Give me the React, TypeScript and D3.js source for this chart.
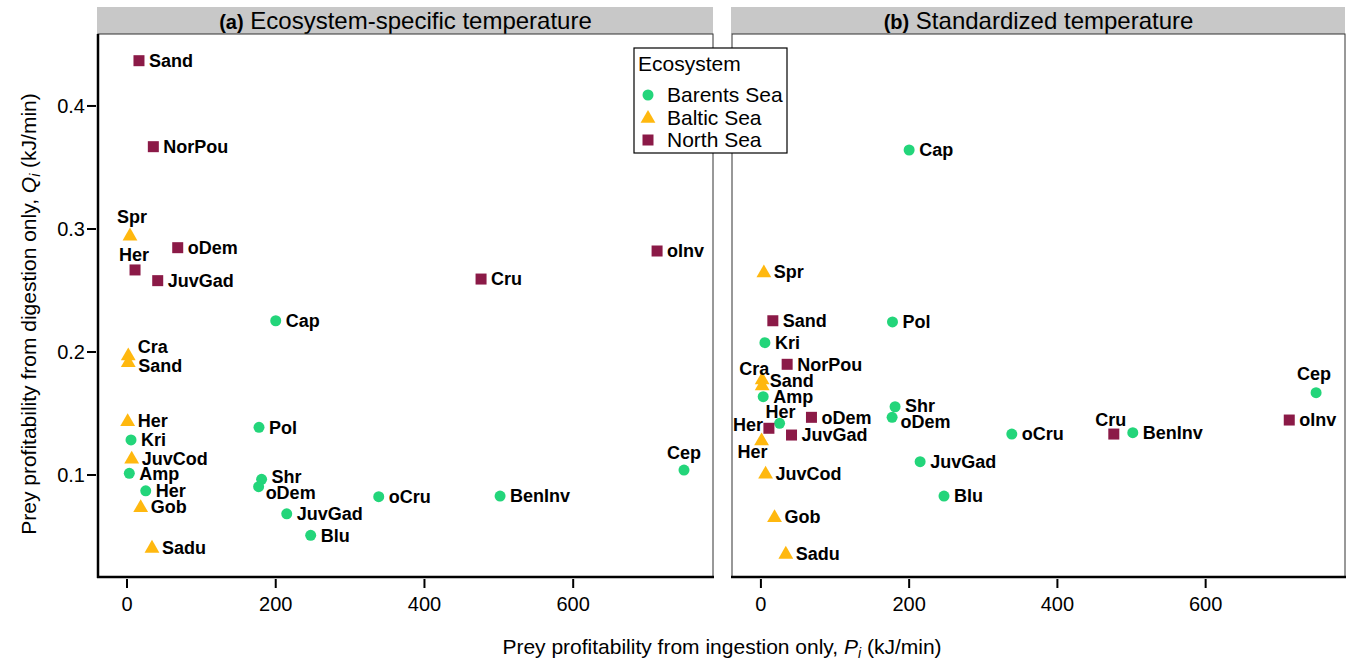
import React from 'react';
import * as d3 from 'd3';

// ---- data ----
const ecosystems = ['Barents Sea', 'Baltic Sea', 'North Sea'];

// prey per ecosystem, P_i (ingestion) is shared between panels
const barentsPrey = ['Cap', 'Pol', 'Kri', 'Amp', 'Her', 'Shr', 'oDem', 'oCru', 'BenInv', 'JuvGad', 'Blu', 'Cep'];
const barentsP = [200, 177.5, 5.4, 3.1, 25.2, 181, 177, 338.5, 501.7, 214.8, 247, 749];
const barentsQa = [0.2254, 0.1388, 0.1285, 0.1014, 0.0872, 0.0965, 0.0905, 0.0824, 0.0829, 0.0685, 0.051, 0.104];
const barentsQb = [0.3642, 0.2244, 0.2076, 0.1637, 0.142, 0.1555, 0.1469, 0.1333, 0.1344, 0.1108, 0.0829, 0.1669];

const balticPrey = ['Spr', 'Cra', 'Sand', 'Her', 'JuvCod', 'Gob', 'Sadu'];
const balticP = [4.0, 1.7, 1.7, 0.9, 6.3, 18.4, 33.6];
const balticQa = [0.295, 0.1976, 0.1921, 0.1441, 0.1136, 0.0742, 0.0412];
const balticQb = [0.265, 0.178, 0.1732, 0.1285, 0.1014, 0.0661, 0.0363];

const northPrey = ['Sand', 'NorPou', 'oDem', 'Her', 'JuvGad', 'Cru', 'oInv'];
const northP = [16.1, 35.4, 68.2, 10.8, 41.3, 476.1, 712.8];
const northQa = [0.4368, 0.3669, 0.2848, 0.2667, 0.258, 0.2593, 0.2821];
const northQb = [0.2254, 0.19, 0.1469, 0.138, 0.1325, 0.1333, 0.1447];

const xTicks = [0, 200, 400, 600];
const yTicks = [0.1, 0.2, 0.3, 0.4];
const panelTitles = [['(a)', 'Ecosystem-specific temperature'], ['(b)', 'Standardized temperature']];

// label placement tweaks: [dx, dy, anchor]
const labelNudge: Record<string, [number, number, string]> = {
  'a|Baltic Sea|Spr': [2, -18, 'middle'],
  'a|North Sea|Her': [-1, -15, 'middle'],
  'a|Baltic Sea|Cra': [9.5, -8, 'start'],
  'a|Baltic Sea|Sand': [10, 4, 'start'],
  'a|Barents Sea|Shr': [10, -3, 'start'],
  'a|Barents Sea|oDem': [7, 6, 'start'],
  'a|Barents Sea|Cep': [0, -17, 'middle'],
  'b|Baltic Sea|Cra': [-8, -10, 'middle'],
  'b|Baltic Sea|Sand': [7.5, -4, 'start'],
  'b|Barents Sea|Her': [1, -12, 'middle'],
  'b|North Sea|Her': [-6, -4, 'end'],
  'b|Baltic Sea|Her': [-9, 12, 'middle'],
  'b|Barents Sea|Shr': [10, -1, 'start'],
  'b|Barents Sea|oDem': [8.5, 4, 'start'],
  'b|North Sea|Cru': [-3, -14, 'middle'],
  'b|Barents Sea|Cep': [-2, -19, 'middle'],
};

const colors: Record<string, string> = {
  'Barents Sea': '#23d57a',
  'Baltic Sea': '#ffb80f',
  'North Sea': '#8b1a47',
};

type Pt = { eco: string; name: string; p: number; q: number };

const build = (panel: 'a' | 'b'): Pt[] => {
  const out: Pt[] = [];
  barentsPrey.forEach((n, i) => out.push({ eco: 'Barents Sea', name: n, p: barentsP[i], q: panel === 'a' ? barentsQa[i] : barentsQb[i] }));
  balticPrey.forEach((n, i) => out.push({ eco: 'Baltic Sea', name: n, p: balticP[i], q: panel === 'a' ? balticQa[i] : balticQb[i] }));
  northPrey.forEach((n, i) => out.push({ eco: 'North Sea', name: n, p: northP[i], q: panel === 'a' ? northQa[i] : northQb[i] }));
  return out;
};

const FONT = 'Liberation Sans, Arial, sans-serif';

const Marker = ({ eco, x, y }: { eco: string; x: number; y: number }) => {
  const c = colors[eco];
  if (eco === 'Barents Sea') return <circle cx={x} cy={y} r={5.5} fill={c} />;
  if (eco === 'Baltic Sea') {
    const sym = d3.symbol(d3.symbolTriangle, 95)();
    return <path d={sym || ''} transform={`translate(${x},${y + 1})`} fill={c} />;
  }
  return <rect x={x - 5.5} y={y - 5.5} width={11} height={11} fill={c} />;
};

const top = 34;
const bottom = 577;
const panels = [
  { id: 'a' as const, left: 98, right: 713 },
  { id: 'b' as const, left: 732, right: 1345 },
];

const y = d3.scaleLinear().domain([0.0171, 0.4585]).range([bottom, top]);

const Panel = ({ id, left, right, idx }: { id: 'a' | 'b'; left: number; right: number; idx: number }) => {
  const x = d3.scaleLinear().domain([-39, 788]).range([left, right]);
  const pts = build(id);
  const [tag, title] = panelTitles[idx];
  return (
    <g>
      {/* strip */}
      <rect x={left - 1} y={7} width={right - left + 1} height={top - 7} fill="#c8c8c8" />
      <text x={(left + right) / 2} y={29} textAnchor="middle" fontFamily={FONT} fontSize={24} fill="#000">
        <tspan fontWeight="bold" fontSize={20}>{tag}</tspan> {title}
      </text>
      {/* panel box */}
      <rect x={left} y={top} width={right - left} height={bottom - top} fill="#fff" stroke="#333" strokeWidth={1} />
      {/* axes */}
      <line x1={left - 1} x2={right + 1} y1={bottom} y2={bottom} stroke="#000" strokeWidth={2.5} />
      {id === 'a' && <line x1={left} x2={left} y1={top} y2={bottom + 1} stroke="#000" strokeWidth={2.5} />}
      {xTicks.map(t => (
        <g key={t}>
          <line x1={x(t)} x2={x(t)} y1={bottom + 2} y2={bottom + 11} stroke="#000" strokeWidth={2} />
          <text x={x(t)} y={611} textAnchor="middle" fontFamily={FONT} fontSize={20} fill="#000">{t}</text>
        </g>
      ))}
      {id === 'a' && yTicks.map(t => (
        <g key={t}>
          <line x1={left - 11} x2={left - 2} y1={y(t)} y2={y(t)} stroke="#000" strokeWidth={2} />
          <text x={left - 13} y={y(t) + 7} textAnchor="end" fontFamily={FONT} fontSize={20} fill="#000">{t.toFixed(1)}</text>
        </g>
      ))}
      {pts.map(d => (
        <Marker key={`${d.eco}${d.name}`} eco={d.eco} x={x(d.p)} y={y(d.q)} />
      ))}
      {pts.map(d => {
        const [dx, dy, anchor] = labelNudge[`${id}|${d.eco}|${d.name}`] || [10, 0, 'start'];
        return (
          <text key={`l${d.eco}${d.name}`} x={x(d.p) + dx} y={y(d.q) + dy} dy="0.35em" textAnchor={anchor}
            fontFamily={FONT} fontSize={18} fontWeight="bold" fill="#000">{d.name}</text>
        );
      })}
    </g>
  );
};

export default function App() {
  return (
    <svg width={1346} height={661} style={{ position: 'absolute', left: 0, top: 0, background: '#fff' }}>
      <rect width={1346} height={661} fill="#fff" />
      {panels.map((p, i) => <Panel key={p.id} id={p.id} left={p.left} right={p.right} idx={i} />)}
      {/* axis titles */}
      <text x={722} y={654} textAnchor="middle" fontFamily={FONT} fontSize={21} fill="#000">
        Prey profitability from ingestion only, <tspan fontStyle="italic">P</tspan><tspan fontStyle="italic" fontSize={14} dy={4}>i</tspan><tspan dy={-4}> (kJ/min)</tspan>
      </text>
      <text transform="translate(36,314) rotate(-90)" textAnchor="middle" fontFamily={FONT} fontSize={21} fill="#000">
        Prey profitability from digestion only, <tspan fontStyle="italic">Q</tspan><tspan fontStyle="italic" fontSize={14} dy={4}>i</tspan><tspan dy={-4}> (kJ/min)</tspan>
      </text>
      {/* legend */}
      <g>
        <rect x={634} y={48} width={153} height={105} fill="#fff" stroke="#000" strokeWidth={1.2} />
        <text x={638} y={71} fontFamily={FONT} fontSize={21} fill="#000">Ecosystem</text>
        {ecosystems.map((e, i) => (
          <g key={e}>
            <Marker eco={e} x={648} y={95 + i * 22.5} />
            <text x={667} y={95 + i * 22.5} dy="0.35em" fontFamily={FONT} fontSize={21} fill="#000">{e}</text>
          </g>
        ))}
      </g>
    </svg>
  );
}
